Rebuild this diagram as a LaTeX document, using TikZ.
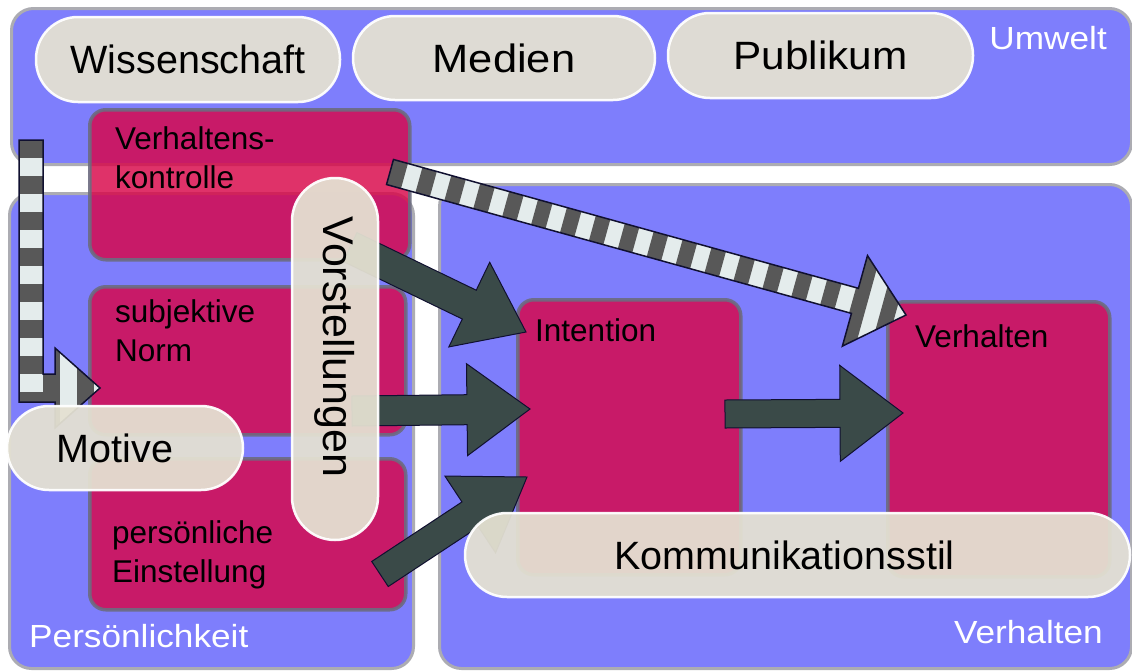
\documentclass[tikz,border=0pt]{standalone}
\usepackage{fontspec}
\setmainfont{Liberation Sans}
\usetikzlibrary{calc}

\definecolor{panelblue}{RGB}{126,126,252}
\definecolor{panelborder}{RGB}{172,172,178}
\definecolor{crimsonfill}{RGB}{217,5,72}
\definecolor{crimsonborder}{RGB}{108,108,128}
\definecolor{pillfill}{RGB}{228,225,210}
\definecolor{darkarrow}{RGB}{58,74,72}
\definecolor{stripedark}{RGB}{88,88,88}
\definecolor{stripelight}{RGB}{228,236,236}
\definecolor{arrowline}{RGB}{16,16,48}

% block arrow geometry: #1 name, #2 tail, #3 tip, #4 shaft half width, #5 head half width, #6 head length
\newcommand{\defarrow}[6]{%
  \coordinate (#1-t) at (#3);
  \coordinate (#1-h) at ($(#3)!#6!(#2)$);
  \coordinate (#1-1) at ($(#2)!#4!90:(#3)$);
  \coordinate (#1-2) at ($(#1-h)!#4!-90:(#2)$);
  \coordinate (#1-3) at ($(#1-h)!#5!-90:(#2)$);
  \coordinate (#1-4) at ($(#1-h)!#5!90:(#2)$);
  \coordinate (#1-5) at ($(#1-h)!#4!90:(#2)$);
  \coordinate (#1-6) at ($(#2)!#4!-90:(#3)$);
}
\newcommand{\arrowpath}[1]{(#1-1) -- (#1-2) -- (#1-3) -- (#1-t) -- (#1-4) -- (#1-5) -- (#1-6) -- cycle}
\newcommand{\Lpath}{(19,140) -- (43,140) -- (43,374) -- (55,374) -- (55,348) -- (le) -- (55,428) -- (55,402) -- (19,402) -- cycle}

\tikzset{
  panel/.style={draw=panelborder, line width=3pt, fill=panelblue, rounded corners=22pt, inner sep=0pt, anchor=north west},
  cbox/.style={draw=crimsonborder, line width=3.5pt, fill=crimsonfill, fill opacity=0.82, draw opacity=0.9, rounded corners=16pt, inner sep=0pt, anchor=north west},
  boxtext/.style={inner sep=0pt, align=left, text=black, font=\fontsize{31.5}{39}\selectfont},
  pill/.style={draw=white, line width=2.5pt, fill=pillfill, fill opacity=0.94, draw opacity=0.95, text opacity=1, rounded corners=42pt, inner sep=0pt, text=black, font=\fontsize{39.5}{48}\selectfont},
  paneltext/.style={inner sep=0pt, text=white, font=\fontsize{32}{40}\selectfont\addfontfeature{FakeStretch=1.1}},
  darrow/.style={fill=darkarrow, draw=arrowline, line width=1pt, line join=miter},
  sline/.style={draw=arrowline, line width=1.5pt, line join=miter},
}

\begin{document}
\begin{tikzpicture}[x=1pt,y=-1pt]
\useasboundingbox (0,0) rectangle (1132,670);
\fill[white] (0,0) rectangle (1132,670);

% panels
\node[panel, minimum width=1120pt, minimum height=156pt] (umwelt) at (10,7) {};
\node[panel, minimum width=404pt, minimum height=475pt] (pers) at (8,192) {};
\node[panel, minimum width=692pt, minimum height=484pt] (verh) at (438,183) {};

% crimson boxes
\node[cbox, minimum width=320pt, minimum height=150pt] (vk) at (88,108) {};
\node[cbox, minimum width=316pt, minimum height=148pt] (sn) at (88,285) {};
\node[cbox, minimum width=316pt, minimum height=151pt] (pe) at (88,457) {};
\node[cbox, minimum width=223pt, minimum height=275pt] (int) at (516,298) {};
\node[cbox, minimum width=222pt, minimum height=275pt] (vb) at (886,300) {};

% box texts
\node[boxtext, anchor=north west] (vkt) at (115,126) {Verhaltens-\\kontrolle};
\node[boxtext, anchor=north west] (snt) at (115,299) {subjektive\\Norm};
\node[boxtext, anchor=north west] (pet) at (112,520) {persönliche\\Einstellung};
\node[boxtext, anchor=base west] (intt) at (535,341) {Intention};
\node[boxtext, anchor=base west] (vbt) at (915,347) {Verhalten};

% dark arrows
\coordinate (a1s) at (350,247); \coordinate (a1e) at (526,332);
\coordinate (a2s) at (352,411); \coordinate (a2e) at (530,409);
\coordinate (a3s) at (380,574); \coordinate (a3e) at (527,477);
\coordinate (a4s) at (725,414); \coordinate (a4e) at (903,413);
\defarrow{da1}{a1s}{a1e}{16pt}{47pt}{63pt}
\defarrow{da2}{a2s}{a2e}{15pt}{46pt}{63pt}
\defarrow{da3}{a3s}{a3e}{15pt}{46pt}{68pt}
\defarrow{da4}{a4s}{a4e}{14pt}{48pt}{63pt}
\draw[darrow] \arrowpath{da1};
\draw[darrow] \arrowpath{da2};
\draw[darrow] \arrowpath{da3};
\draw[darrow] \arrowpath{da4};

% striped diagonal arrow
\coordinate (s1s) at (390,172); \coordinate (s1e) at (906,315);
\defarrow{sa}{s1s}{s1e}{13pt}{47pt}{53pt}
\begin{scope}
  \clip \arrowpath{sa};
  \fill[stripelight] (s1s) circle (700pt);
  \draw[stripedark, line width=130pt, dash pattern=on 15pt off 15pt] (s1s) -- (s1e);
\end{scope}
\draw[sline] \arrowpath{sa};

% striped L arrow
\coordinate (ls) at (31,140); \coordinate (le) at (100,388);
\begin{scope}
  \clip \Lpath;
  \fill[stripelight] (0,120) rectangle (120,440);
  \draw[stripedark, line width=24pt, dash pattern=on 18pt off 18pt] (ls) -- (31,402);
  \draw[stripedark, line width=90pt, dash pattern=on 17pt off 17pt] (43,388) -- (le);
\end{scope}
\draw[sline] \Lpath;

% pills
\node[pill, minimum width=304pt, minimum height=85pt] (wiss) at (188,59.5) {Wissenschaft};
\node[pill, minimum width=302pt, minimum height=84pt, font=\fontsize{39.5}{48}\selectfont\addfontfeature{FakeStretch=1.1}] (med) at (504,58) {Medien};
\node[pill, minimum width=305pt, minimum height=85pt, font=\fontsize{39.5}{48}\selectfont\addfontfeature{FakeStretch=1.07}] (pub) at (820.5,55.5) {Publikum};
\node[pill, minimum width=236pt, minimum height=84pt] (mot) at (125,448) {Motive\hspace*{20pt}};
\node[pill, minimum width=665pt, minimum height=84pt] (komm) at (797.5,555) {Kommunikationsstil\hspace*{26pt}};
\node[pill, minimum width=362pt, minimum height=86pt, rounded corners=43pt, rotate=-90] (vorst) at (335,359) {};
\node[inner sep=0pt, rotate=-90, font=\fontsize{43}{50}\selectfont] (vorstt) at (335,347) {Vorstellungen};

% panel labels
\node[paneltext, anchor=base east] (umweltl) at (1107,49) {Umwelt};
\node[paneltext, anchor=base west] (persl) at (29,647) {Persönlichkeit};
\node[paneltext, anchor=base east] (verhl) at (1103,643) {Verhalten};
\end{tikzpicture}
\end{document}
